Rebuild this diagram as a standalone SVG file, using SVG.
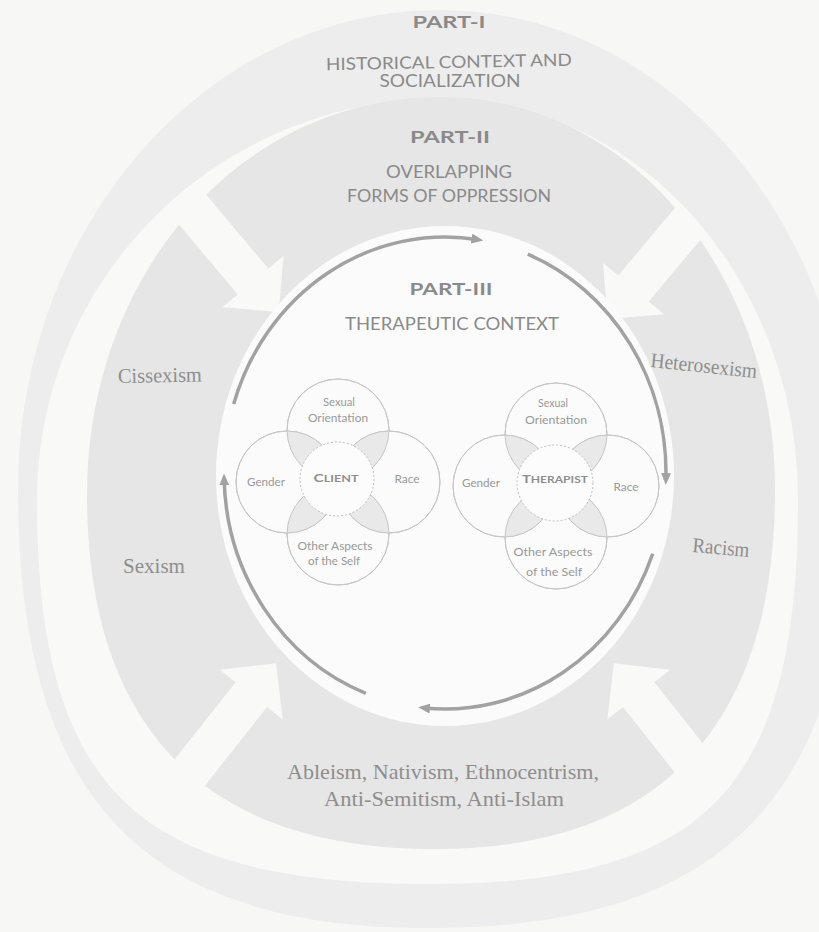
<svg xmlns="http://www.w3.org/2000/svg" width="819" height="932" viewBox="0 0 819 932">
  <style>
    .sans { font-family: Lato, "Open Sans", "DejaVu Sans", sans-serif; fill: #8a8a8a; text-anchor: middle; }
    .part { font-weight: 700; font-size: 17px; }
    .cap { font-size: 17px; }
    .serif { font-family: "Liberation Serif", "Times New Roman", serif; font-size: 21px; fill: #8e8e8e; }
    .mid { text-anchor: middle; }
    .venn { font-family: Lato, "Open Sans", "DejaVu Sans", sans-serif; font-size: 11px; fill: #999999; text-anchor: middle; }
    .venn-b { font-weight: 700; fill: #8f8f8f; }
    .ring { fill: #f9f9f8; }
    .circ { fill: #fbfbfb; stroke: #c6c6c6; stroke-width: 1; }
    .lens { fill: #e9e9e9; }
    .line { fill: none; stroke: #c6c6c6; stroke-width: 1; }
    .core { fill: #fcfcfc; stroke: #bfbfbf; stroke-width: 1; stroke-dasharray: 2 2; }
    .flow { fill: none; stroke: #a2a2a2; stroke-width: 3.5; marker-end: url(#head); }
    .divider { fill: #f9f9f8; }
  </style>
  <defs>
    <marker id="head" viewBox="0 0 12 10" refX="7" refY="5" markerWidth="12" markerHeight="10" markerUnits="userSpaceOnUse" orient="auto">
      <path d="M0,0 L12,5 L0,10 Z" fill="#a2a2a2"/>
    </marker>
    <path id="band-edge" d="M440,99 C637.6,99 798,278.6 798,500 C798,788 706,884 430,884 C135,884 37,788 37,500 C37,278.6 217.5,99 440,99 Z"/>
    <clipPath id="band-clip"><use href="#band-edge"/></clipPath>
    <clipPath id="c-top"><circle cx="338" cy="430" r="51"/></clipPath>
    <clipPath id="c-bottom"><circle cx="338" cy="534" r="51"/></clipPath>
    <clipPath id="t-top"><circle cx="556" cy="434" r="51"/></clipPath>
    <clipPath id="t-bottom"><circle cx="556" cy="538" r="51"/></clipPath>
  </defs>

  <!-- paper -->
  <rect width="819" height="932" fill="#f7f7f6"/>

  <!-- Part I: historical context -->
  <g id="part-1">
    <path d="M440,10 C667.4,10 852,225 852,490 C852,796.6 724.8,928 428,928 C141,928 18,796.6 18,490 C18,225 207,10 440,10 Z" fill="#ededed"/>
    <use href="#band-edge" class="ring"/>
    <text class="sans part" x="449" y="28" textLength="73" lengthAdjust="spacingAndGlyphs">PART-I</text>
    <text class="sans cap" x="449" y="68" textLength="246" lengthAdjust="spacingAndGlyphs" transform="rotate(-1 449 68)">HISTORICAL CONTEXT AND</text>
    <text class="sans cap" x="450" y="87" textLength="141" lengthAdjust="spacingAndGlyphs">SOCIALIZATION</text>
  </g>

  <!-- Part II: overlapping forms of oppression -->
  <g id="part-2">
    <path d="M440,97 C627.6,97 775,269.9 775,490 C775,727 659.4,849 435,849 C205.3,849 87,728.6 87,495 C87,272.1 242.3,97 440,97 Z" fill="#e6e6e6"/>
    <g id="dividers" clip-path="url(#band-clip)">
      <polygon class="divider" points="75.4,38.8 268.3,268.6 283.6,255.8 278.7,312.1 222.4,307.2 237.7,294.4 44.8,64.6"/>
      <polygon class="divider" points="811.1,45.8 618.2,275.6 602.9,262.8 607.8,319.1 664.1,314.2 648.8,301.4 841.7,71.6"/>
      <polygon class="divider" points="49.6,917.7 235.6,682.2 219.9,669.8 276.1,663.2 282.7,719.4 267.0,707.0 81.0,942.5"/>
      <polygon class="divider" points="840.4,917.7 654.4,682.2 670.1,669.8 613.9,663.2 607.3,719.4 623.0,707.0 809.0,942.5"/>
    </g>
    <text class="sans part" x="450" y="143" textLength="80" lengthAdjust="spacingAndGlyphs">PART-II</text>
    <text class="sans cap" x="449" y="178" textLength="126" lengthAdjust="spacingAndGlyphs">OVERLAPPING</text>
    <text class="sans cap" x="449" y="202" textLength="204" lengthAdjust="spacingAndGlyphs">FORMS OF OPPRESSION</text>
  </g>

  <!-- Part III: therapeutic context -->
  <g id="part-3">
    <ellipse cx="445" cy="476" rx="229" ry="250" fill="#fbfbfb"/>
    <text class="sans part" x="451" y="295" textLength="83" lengthAdjust="spacingAndGlyphs">PART-III</text>
    <text class="sans cap" x="452" y="330" textLength="214" lengthAdjust="spacingAndGlyphs">THERAPEUTIC CONTEXT</text>
  </g>

  <!-- circular flow around the therapeutic context -->
  <g id="connectors">
    <path class="flow" d="M233.7,404.0 A221,236 0 0 1 478.4,239.7"/>
    <path class="flow" d="M527.8,254.2 A221,236 0 0 1 665.9,480.0"/>
    <path class="flow" d="M652.7,553.7 A221,236 0 0 1 423.1,707.8"/>
    <path class="flow" d="M365.8,693.3 A221,236 0 0 1 224.1,478.4"/>
  </g>

  <!-- client identities -->
  <g id="client">
    <circle class="circ" cx="338" cy="430" r="51"/>
    <circle class="circ" cx="338" cy="534" r="51"/>
    <circle class="circ" cx="287" cy="482" r="51"/>
    <circle class="circ" cx="389" cy="482" r="51"/>
    <circle class="lens" cx="287" cy="482" r="51" clip-path="url(#c-top)"/>
    <circle class="lens" cx="389" cy="482" r="51" clip-path="url(#c-top)"/>
    <circle class="lens" cx="287" cy="482" r="51" clip-path="url(#c-bottom)"/>
    <circle class="lens" cx="389" cy="482" r="51" clip-path="url(#c-bottom)"/>
    <circle class="line" cx="338" cy="430" r="51"/>
    <circle class="line" cx="338" cy="534" r="51"/>
    <circle class="line" cx="287" cy="482" r="51"/>
    <circle class="line" cx="389" cy="482" r="51"/>
    <circle class="core" cx="337" cy="479" r="37"/>
    <text class="venn" x="339" y="406" textLength="32" lengthAdjust="spacingAndGlyphs">Sexual</text>
    <text class="venn" x="338" y="422" textLength="60" lengthAdjust="spacingAndGlyphs">Orientation</text>
    <text class="venn" x="266" y="486" textLength="38" lengthAdjust="spacingAndGlyphs">Gender</text>
    <text class="venn venn-b" x="336" y="482" textLength="45" lengthAdjust="spacingAndGlyphs">C<tspan font-size="9">LIENT</tspan></text>
    <text class="venn" x="407" y="483" textLength="25" lengthAdjust="spacingAndGlyphs">Race</text>
    <text class="venn" x="335" y="550" textLength="75" lengthAdjust="spacingAndGlyphs">Other Aspects</text>
    <text class="venn" x="334" y="565" textLength="52" lengthAdjust="spacingAndGlyphs">of the Self</text>
  </g>

  <!-- therapist identities -->
  <g id="therapist">
    <circle class="circ" cx="556" cy="434" r="51"/>
    <circle class="circ" cx="556" cy="538" r="51"/>
    <circle class="circ" cx="504" cy="486" r="51"/>
    <circle class="circ" cx="608" cy="486" r="51"/>
    <circle class="lens" cx="504" cy="486" r="51" clip-path="url(#t-top)"/>
    <circle class="lens" cx="608" cy="486" r="51" clip-path="url(#t-top)"/>
    <circle class="lens" cx="504" cy="486" r="51" clip-path="url(#t-bottom)"/>
    <circle class="lens" cx="608" cy="486" r="51" clip-path="url(#t-bottom)"/>
    <circle class="line" cx="556" cy="434" r="51"/>
    <circle class="line" cx="556" cy="538" r="51"/>
    <circle class="line" cx="504" cy="486" r="51"/>
    <circle class="line" cx="608" cy="486" r="51"/>
    <circle class="core" cx="555" cy="483" r="38"/>
    <text class="venn" x="553" y="407" textLength="30" lengthAdjust="spacingAndGlyphs">Sexual</text>
    <text class="venn" x="556" y="424" textLength="62" lengthAdjust="spacingAndGlyphs">Orientation</text>
    <text class="venn" x="481" y="487" textLength="38" lengthAdjust="spacingAndGlyphs">Gender</text>
    <text class="venn venn-b" x="555" y="483" textLength="66" lengthAdjust="spacingAndGlyphs">T<tspan font-size="9">HERAPIST</tspan></text>
    <text class="venn" x="626" y="491" textLength="25" lengthAdjust="spacingAndGlyphs">Race</text>
    <text class="venn" x="553" y="556" textLength="79" lengthAdjust="spacingAndGlyphs">Other Aspects</text>
    <text class="venn" x="554" y="576" textLength="56" lengthAdjust="spacingAndGlyphs">of the Self</text>
  </g>

  <!-- forms of oppression -->
  <g id="oppressions">
    <text class="serif" x="118" y="383" textLength="84" lengthAdjust="spacingAndGlyphs" transform="rotate(-1 118 383)">Cissexism</text>
    <text class="serif" x="650" y="367" textLength="107" lengthAdjust="spacingAndGlyphs" transform="rotate(6 650 367)">Heterosexism</text>
    <text class="serif" x="123" y="573" textLength="62" lengthAdjust="spacingAndGlyphs">Sexism</text>
    <text class="serif" x="692" y="552" textLength="57" lengthAdjust="spacingAndGlyphs" transform="rotate(5 692 552)">Racism</text>
    <text class="serif mid" x="443" y="779" font-size="22" textLength="312" lengthAdjust="spacingAndGlyphs">Ableism, Nativism, Ethnocentrism,</text>
    <text class="serif mid" x="444" y="806" font-size="22" textLength="240" lengthAdjust="spacingAndGlyphs">Anti-Semitism, Anti-Islam</text>
  </g>
</svg>
